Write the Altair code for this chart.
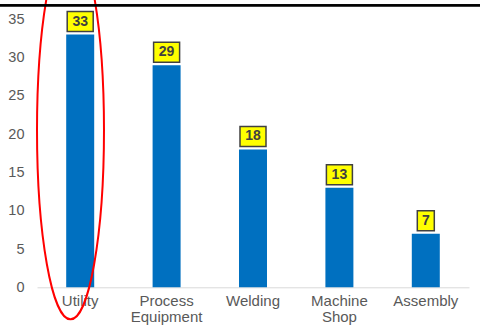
import altair as alt
import pandas as pd

categories = ["Utility", "Process Equipment", "Welding", "Machine Shop", "Assembly"]
values = [33, 29, 18, 13, 7]
y_ticks = [0, 5, 10, 15, 20, 25, 30, 35]

df = pd.DataFrame({"category": categories, "value": values})

FONT = "Liberation Sans"
KX = 0.1772
K = 0.5523
ellipse_path = (
    f"M0,-1 C{K*KX:.4f},-1 {KX},-{K} {KX},0 "
    f"C{KX},{K} {K*KX:.4f},1 0,1 "
    f"C-{K*KX:.4f},1 -{KX},{K} -{KX},0 "
    f"C-{KX},-{K} -{K*KX:.4f},-1 0,-1 Z"
)

x_enc = alt.X(
    "category:N",
    sort=categories,
    scale=alt.Scale(paddingInner=0, paddingOuter=0),
    axis=alt.Axis(
        title=None,
        labelAngle=0,
        ticks=False,
        domainColor="#d9d9d9",
        domainWidth=1,
        labelColor="#595959",
        labelFont=FONT,
        labelFontSize=15,
        labelPadding=6,
        labelLineHeight=16,
        labelExpr="split(datum.label, ' ')",
    ),
)
y_scale = alt.Scale(domain=[0, 35], nice=False)
y_axis = alt.Axis(
    title=None,
    values=y_ticks,
    ticks=False,
    domain=False,
    grid=False,
    labelOverlap=False,
    labelColor="#595959",
    labelFont=FONT,
    labelFontSize=14.5,
    labelPadding=13,
)
y_enc = alt.Y("value:Q", scale=y_scale, axis=y_axis)

base = alt.Chart(df)

bars = base.mark_bar(color="#0070C0", width=28).encode(x=x_enc, y=y_enc)

boxes = base.mark_bar(
    fill="#FFFF00", stroke="#404040", strokeWidth=1.5, yOffset=-3, y2Offset=-23
).encode(
    x=x_enc,
    y=y_enc,
    y2="value:Q",
    size=alt.condition("datum.value >= 10", alt.value(26), alt.value(17)),
)

labels = base.mark_text(
    font=FONT, fontSize=14, fontWeight="bold", color="#404040",
    baseline="middle", align="center", dy=-13
).encode(x=x_enc, y=y_enc, text="value:Q")

ellipse = base.transform_filter(alt.datum.category == "Utility").mark_point(
    shape=ellipse_path, size=142884, filled=False, stroke="#ff0000",
    strokeWidth=2, opacity=1, xOffset=-9.7
).encode(x=x_enc, y=alt.Y(datum=20.5, type="quantitative", scale=y_scale, axis=y_axis))

top_line = base.mark_rule(color="#000000", strokeWidth=1.7).encode(
    x=alt.value(-37), x2=alt.value(443), y=alt.value(-14)
)

chart = alt.layer(bars, boxes, labels, ellipse, top_line).properties(
    width=432,
    height=268,
    autosize=alt.AutoSizeParams(type="none"),
    padding={"left": 37, "top": 19.3, "right": 11, "bottom": 44.7},
    background="#ffffff",
).configure_view(stroke=None)

chart.save("out.html", embed_options={"renderer": "svg", "actions": False})
